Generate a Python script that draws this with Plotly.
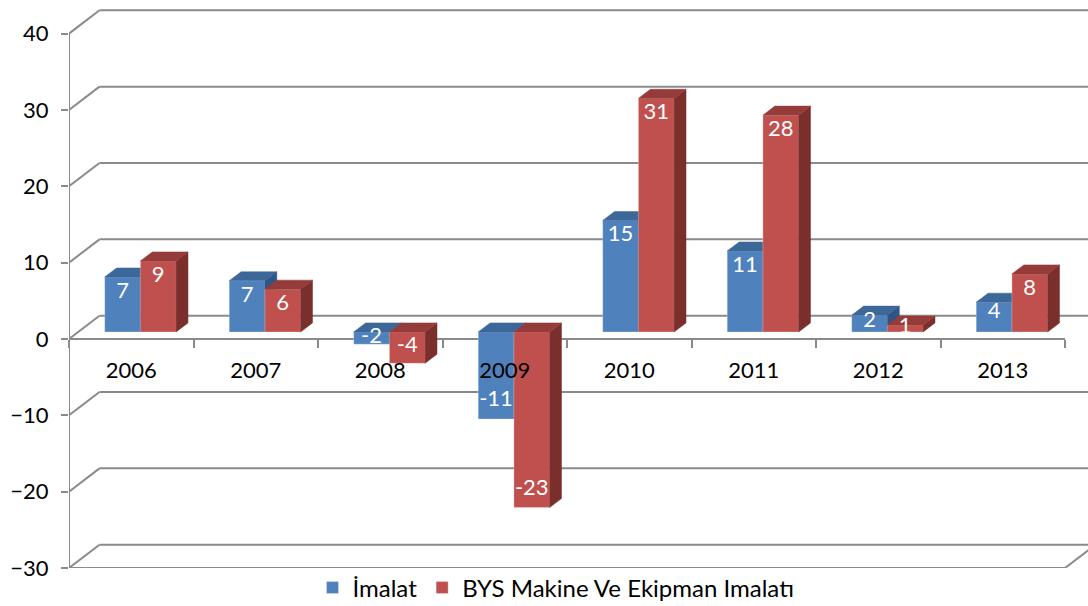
import numpy as np
import plotly.graph_objects as go

# ---------------- data ----------------
years = ["2006", "2007", "2008", "2009", "2010", "2011", "2012", "2013"]
imalat = [7.2, 6.7, -1.6, -11.4, 14.6, 10.6, 2.2, 3.9]
bys_makine = [9.3, 5.6, -4.1, -23.0, 30.6, 28.4, 0.9, 7.6]
series_names = ["İmalat", "BYS Makine Ve Ekipman Imalatı"]
y_ticks = [-30, -20, -10, 0, 10, 20, 30, 40]

# ---------------- geometry / style ----------------
W, H = 1088, 606
M_L, M_R, M_T, M_B = 69, 0, 6, 38
PX_CAT = 124.5          # px per category
PX_UNIT = 7.634         # px per value unit
plot_w = W - M_L - M_R
plot_h = H - M_T - M_B
X_RANGE = [-0.5, -0.5 + plot_w / PX_CAT]
Y_RANGE = [y_ticks[0], y_ticks[0] + plot_h / PX_UNIT]

WALL_DX = 30.5 / PX_CAT   # oblique depth offset (category units)
WALL_DY = 23.3 / PX_UNIT  # oblique depth offset (value units)
PLANE = 0.30              # depth fraction of bars' front plane
BAR_DEPTH = 0.39          # depth fraction of bars
SHIFT_X, SHIFT_Y = PLANE * WALL_DX, PLANE * WALL_DY
DDX, DDY = BAR_DEPTH * WALL_DX, BAR_DEPTH * WALL_DY
BAR_W = 35.7 / PX_CAT

GRID = "#8a8a8a"
FONT = "Lato"
FS = 22
BLUE = dict(front="#4F81BD", top="#3C6799", side="#2E5586")
RED = dict(front="#C0504D", top="#953C3A", side="#7B2F2D")

idx = np.arange(len(years))
x_blue = idx - BAR_W / 2
x_red = idx + BAR_W / 2


def faces(xc, vals):
    tx, ty, sx, sy = [], [], [], []
    for c, v in zip(xc, vals):
        x0, x1 = c - BAR_W / 2, c + BAR_W / 2
        hi, lo = max(v, 0), min(v, 0)
        tx += [x0, x1, x1 + DDX, x0 + DDX, x0, None]
        ty += [hi, hi, hi + DDY, hi + DDY, hi, None]
        sx += [x1, x1, x1 + DDX, x1 + DDX, x1, None]
        sy += [lo, hi, hi + DDY, lo + DDY, lo, None]
    return tx, ty, sx, sy


fig = go.Figure()

# invisible trace to establish the category axis
fig.add_trace(go.Scatter(x=years, y=[0] * len(years), mode="markers",
                         marker=dict(opacity=0), hoverinfo="skip",
                         showlegend=False, xaxis="x", yaxis="y"))


def add_series(xc, vals, name, col, ax):
    xa, ya = "x" + ax, "y" + ax
    fig.add_trace(go.Bar(x=xc, y=vals, width=BAR_W, name=name,
                         marker=dict(color=col["front"],
                                     line=dict(color="rgba(255,255,255,0.35)", width=0.8)),
                         xaxis=xa, yaxis=ya, hoverinfo="skip"))
    tx, ty, sx, sy = faces(xc, vals)
    fig.add_trace(go.Scatter(x=sx, y=sy, mode="lines", fill="toself",
                             fillcolor=col["side"], line=dict(color=col["side"], width=0.5),
                             xaxis=xa, yaxis=ya, showlegend=False, hoverinfo="skip"))
    fig.add_trace(go.Scatter(x=tx, y=ty, mode="lines", fill="toself",
                             fillcolor=col["top"], line=dict(color=col["top"], width=0.5),
                             xaxis=xa, yaxis=ya, showlegend=False, hoverinfo="skip"))


add_series(x_blue, imalat, series_names[0], BLUE, "2")
add_series(x_red, bys_makine, series_names[1], RED, "3")

# data labels (inside the bar end)
lab_x, lab_y, lab_t = [], [], []
for xc, vals in ((x_blue, imalat), (x_red, bys_makine)):
    for c, v in zip(xc, vals):
        off = min(2.0, 0.35 * v) if v >= 0 else -min(2.4, 0.55 * abs(v))
        lab_x.append(c)
        lab_y.append(v - off)
        lab_t.append(f"{v:.0f}")
fig.add_trace(go.Scatter(x=lab_x, y=lab_y, text=lab_t, mode="text",
                         textposition="middle center",
                         textfont=dict(family=FONT, size=FS, color="white"),
                         xaxis="x3", yaxis="y3", showlegend=False, hoverinfo="skip"))

# 3D frame: walls / grid
shapes = []
line = dict(color=GRID, width=2)
x_left, x_right = -0.5, len(years) - 0.5
for t in y_ticks:
    shapes.append(dict(type="line", xref="x", yref="y", layer="below", line=line,
                       x0=x_left, y0=t, x1=x_left + WALL_DX, y1=t + WALL_DY))
    shapes.append(dict(type="line", xref="x", yref="y", layer="below", line=line,
                       x0=x_left + WALL_DX, y0=t + WALL_DY, x1=x_right + WALL_DX, y1=t + WALL_DY))
shapes.append(dict(type="line", xref="x", yref="y", layer="below", line=line,
                   x0=x_left, y0=y_ticks[0], x1=x_left, y1=y_ticks[-1]))
shapes.append(dict(type="line", xref="x", yref="y", layer="below", line=line,
                   x0=x_left, y0=0, x1=x_right, y1=0))
shapes.append(dict(type="line", xref="x", yref="y", layer="below", line=line,
                   x0=x_left, y0=y_ticks[0], x1=x_right, y1=y_ticks[0]))
shapes.append(dict(type="line", xref="x", yref="y", layer="below", line=line,
                   x0=x_right, y0=y_ticks[0], x1=x_right + WALL_DX, y1=y_ticks[0] + WALL_DY))

tickfont = dict(family=FONT, size=FS, color="black")
overlay_x = dict(range=[X_RANGE[0] - SHIFT_X, X_RANGE[1] - SHIFT_X], visible=False,
                 overlaying="x", fixedrange=True)
overlay_y = dict(range=[Y_RANGE[0] - SHIFT_Y, Y_RANGE[1] - SHIFT_Y], visible=False,
                 overlaying="y", fixedrange=True)

fig.update_layout(
    width=W, height=H,
    margin=dict(l=M_L, r=M_R, t=M_T, b=M_B, autoexpand=False),
    paper_bgcolor="white", plot_bgcolor="white",
    shapes=shapes,
    showlegend=True,
    legend=dict(orientation="h", x=(556 - M_L) / plot_w, xanchor="center",
                y=-20 / plot_h, yanchor="middle", font=dict(family=FONT, size=24, color="black"),
                itemwidth=30, bgcolor="rgba(0,0,0,0)"),
    xaxis=dict(type="category", categoryorder="array", categoryarray=years,
               range=X_RANGE, anchor="free",
               position=(0 - Y_RANGE[0]) / (Y_RANGE[1] - Y_RANGE[0]),
               showline=False, showgrid=False, zeroline=False, automargin=False,
               ticks="outside", ticklen=8, tickwidth=2, tickcolor=GRID,
               tickson="boundaries", tickfont=tickfont, ticklabelstandoff=16,
               fixedrange=True),
    yaxis=dict(range=Y_RANGE, tickvals=y_ticks, showline=False, showgrid=False,
               zeroline=False, ticks="outside", ticklen=7, tickwidth=2, tickcolor=GRID,
               automargin=False,
               tickfont=tickfont, ticklabelstandoff=8, fixedrange=True),
    xaxis2=dict(overlay_x, anchor="y2"),
    yaxis2=dict(overlay_y, anchor="x2"),
    xaxis3=dict(overlay_x, anchor="y3"),
    yaxis3=dict(overlay_y, anchor="x3"),
)

fig.write_html("out.html", config={"displayModeBar": False},
               post_script="document.body.style.margin='0';document.body.style.overflow='hidden';")
